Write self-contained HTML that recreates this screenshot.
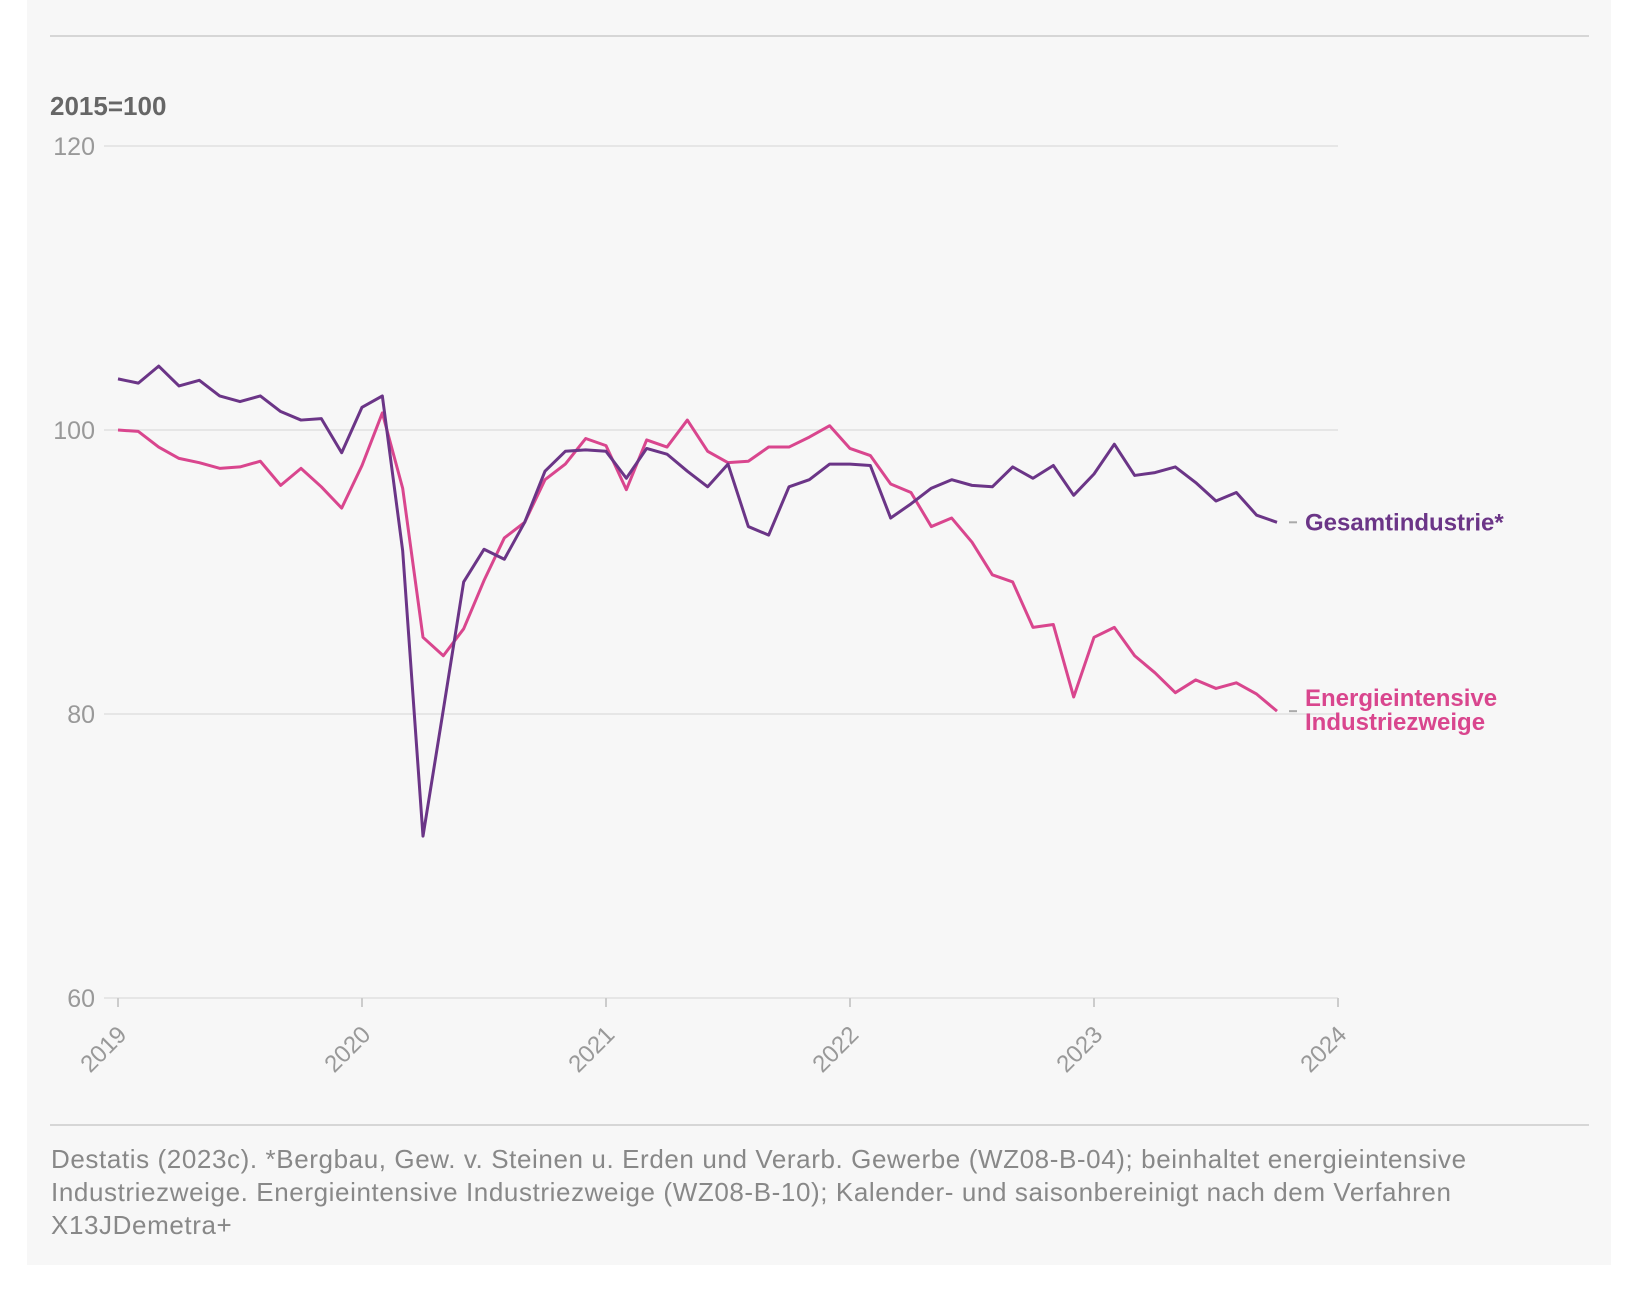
<!DOCTYPE html>
<html><head><meta charset="utf-8"><style>
body{margin:0;background:#fff;width:1636px;height:1290px;overflow:hidden;font-family:"Liberation Sans",sans-serif}
#card{position:absolute;left:27px;top:0;width:1584px;height:1265px;background:#f7f7f7}
.rule{position:absolute;left:50px;width:1539px;height:2px;background:#d6d6d6}
#unit{position:absolute;left:50px;top:91px;font-size:26px;font-weight:bold;color:#666}
#foot{position:absolute;left:51px;top:1143px;font-size:26px;letter-spacing:0.6px;line-height:33px;color:#888;width:1500px}
svg{position:absolute;left:0;top:0}
</style></head><body>
<div id="card"></div>
<div class="rule" style="top:35px"></div>
<div id="unit">2015=100</div>
<div class="rule" style="top:1124px"></div>
<div id="foot">Destatis (2023c). *Bergbau, Gew. v. Steinen u. Erden und Verarb. Gewerbe (WZ08-B-04); beinhaltet energieintensive Industriezweige. Energieintensive Industriezweige (WZ08-B-10); Kalender- und saisonbereinigt nach dem Verfahren X13JDemetra+</div>
<svg id="chart" width="1636" height="1290"></svg>
<script>
const yTicks=[60,80,100,120];
const xTicks=["2019","2020","2021","2022","2023","2024"];
const gesamt=[103.6,103.3,104.5,103.1,103.5,102.4,102.0,102.4,101.3,100.7,100.8,98.4,101.6,102.4,91.5,71.4,80.3,89.3,91.6,90.9,93.5,97.1,98.5,98.6,98.5,96.6,98.7,98.3,97.1,96.0,97.6,93.2,92.6,96.0,96.5,97.6,97.6,97.5,93.8,94.8,95.9,96.5,96.1,96.0,97.4,96.6,97.5,95.4,96.9,99.0,96.8,97.0,97.4,96.3,95.0,95.6,94.0,93.5];
const energie=[100.0,99.9,98.8,98.0,97.7,97.3,97.4,97.8,96.1,97.3,96.0,94.5,97.5,101.2,95.9,85.4,84.1,86.0,89.4,92.4,93.5,96.5,97.6,99.4,98.9,95.8,99.3,98.8,100.7,98.5,97.7,97.8,98.8,98.8,99.5,100.3,98.7,98.2,96.2,95.6,93.2,93.8,92.1,89.8,89.3,86.1,86.3,81.2,85.4,86.1,84.1,82.9,81.5,82.4,81.8,82.2,81.4,80.2];
const NS='http://www.w3.org/2000/svg';
const svg=document.getElementById('chart');
const x=m=>118+m*(1220/60);
const y=v=>430-(v-100)*14.2;
function mk(t,a,txt){const e=document.createElementNS(NS,t);for(const k in a)e.setAttribute(k,a[k]);if(txt!==undefined)e.textContent=txt;svg.appendChild(e);return e;}
yTicks.forEach(v=>{
 const g=mk('line',{x1:104,x2:1338,y1:y(v),y2:y(v),stroke:'#e6e6e6','stroke-width':2});
 
 
 const t=mk('text',{x:95,y:y(v)+9,'text-anchor':'end','font-size':25,fill:'#999','font-family':'Liberation Sans, sans-serif'},v);
 
 
});
xTicks.forEach((l,i)=>{
 const px=x(i*12);
 const tk=mk('line',{x1:px,x2:px,y1:y(60),y2:y(60)+9,stroke:'#ccc','stroke-width':2});
 
 
 const t=mk('text',{x:px+10,y:y(60)+38,'text-anchor':'end','font-size':24,fill:'#999','font-family':'Liberation Sans, sans-serif',transform:`rotate(-45 ${px+10} ${y(60)+38})`},l);
 
 
});
function line(d,c,n){
 const p=mk('polyline',{points:d.map((v,i)=>x(i)+','+y(v)).join(' '),fill:'none',stroke:c,'stroke-width':3,'stroke-linejoin':'round'});
 
 
}
line(energie,'#d9468e','series-energieintensive');
line(gesamt,'#6b3587','series-gesamtindustrie');
const lx=x(57);
const d1=mk('line',{x1:lx+12,x2:lx+20,y1:y(gesamt[57]),y2:y(gesamt[57]),stroke:'#aaa','stroke-width':2});


const t1=mk('text',{x:lx+28,y:y(gesamt[57])+8,'font-size':24,'font-weight':'bold',fill:'#6b3587','font-family':'Liberation Sans, sans-serif'},'Gesamtindustrie*');


const d2=mk('line',{x1:lx+12,x2:lx+20,y1:y(energie[57]),y2:y(energie[57]),stroke:'#aaa','stroke-width':2});


const t2=mk('text',{x:lx+28,y:y(energie[57])-5,'font-size':24,'font-weight':'bold',fill:'#d9468e','font-family':'Liberation Sans, sans-serif'},'Energieintensive');


const t3=mk('text',{x:lx+28,y:y(energie[57])+19,'font-size':24,'font-weight':'bold',fill:'#d9468e','font-family':'Liberation Sans, sans-serif'},'Industriezweige');


</script>
</body></html>
